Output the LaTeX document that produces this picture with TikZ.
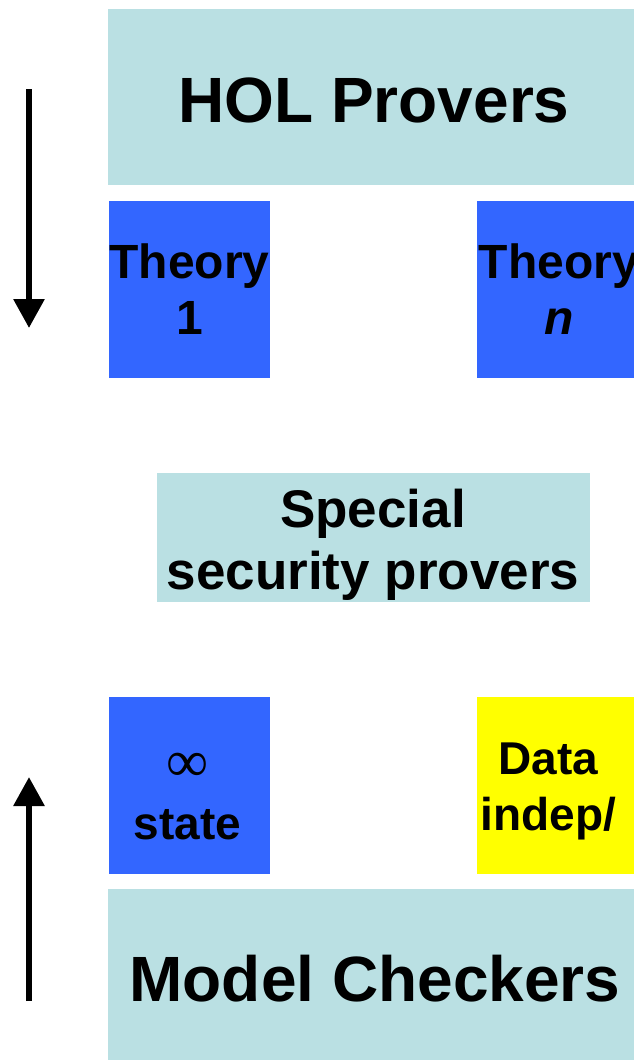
\documentclass[tikz,border=0pt]{standalone}
\usepackage{fontspec}
\setmainfont{Liberation Sans}
\newfontfamily\symfont{Liberation Serif}
\usepackage{xcolor}
\usepackage{tikz}
\usetikzlibrary{arrows.meta}
\definecolor{ProverTeal}{HTML}{BAE0E3}
\definecolor{TheoryBlue}{HTML}{3366FF}
\definecolor{DataYellow}{HTML}{FFFF00}
\definecolor{LabelInk}{HTML}{000000}

\begin{document}
\begin{tikzpicture}[x=1pt,y=-1pt,
    bigtext/.style={inner sep=0pt, align=center, text=LabelInk, font=\fontsize{64pt}{70pt}\selectfont\bfseries},
    tiletext/.style={inner sep=0pt, align=center, text=LabelInk, font=\fontsize{48pt}{56pt}\selectfont\bfseries},
    flow/.style={line width=6pt, -{Triangle[width=30pt,length=29pt]}}]
        \useasboundingbox (0,0) rectangle (634,1060);
        % layers
        \fill[ProverTeal] (108,9) rectangle (634,185);
        \fill[ProverTeal] (108,889) rectangle (634,1060);
        \fill[ProverTeal] (157,473) rectangle (590,602);
        % tiles
        \fill[TheoryBlue] (109,201) rectangle (270,378);
        \fill[TheoryBlue] (477,201) rectangle (634,378);
        \fill[TheoryBlue] (109,697) rectangle (270,874);
        \fill[DataYellow] (477,697) rectangle (634,874);
        \node[bigtext] (hol) at (374,100) {HOL Provers};
        \node[bigtext] (mc) at (375,978.5) {Model Checkers};
        \node[bigtext, font=\fontsize{53pt}{62pt}\selectfont\bfseries] (special) at (373,544.5) {Special\\security provers};
        \node[tiletext] (theoryA) at (189.5,289.5) {Theory\\1};
        \node[tiletext] (theoryN) at (559,289.5) {Theory\\\textit{n}};
        \node[tiletext, font=\fontsize{46pt}{50pt}\selectfont\bfseries] (infstate) at (187.5,796.5) {{\symfont\fontsize{59pt}{60pt}\selectfont\mdseries ∞}\\[8pt]state};
        \node[tiletext, font=\fontsize{46pt}{56pt}\selectfont\bfseries] (dataind) at (548.5,791.5) {Data\\indep/};
        % direction arrows
        \coordinate (downTop) at (29,89);
        \coordinate (downTip) at (29,328);
        \coordinate (upBase) at (29,1001);
        \coordinate (upTip) at (29,777);
        \draw[flow] (downTop) -- (downTip);
        \draw[flow] (upBase) -- (upTip);
      \end{tikzpicture}
\end{document}
